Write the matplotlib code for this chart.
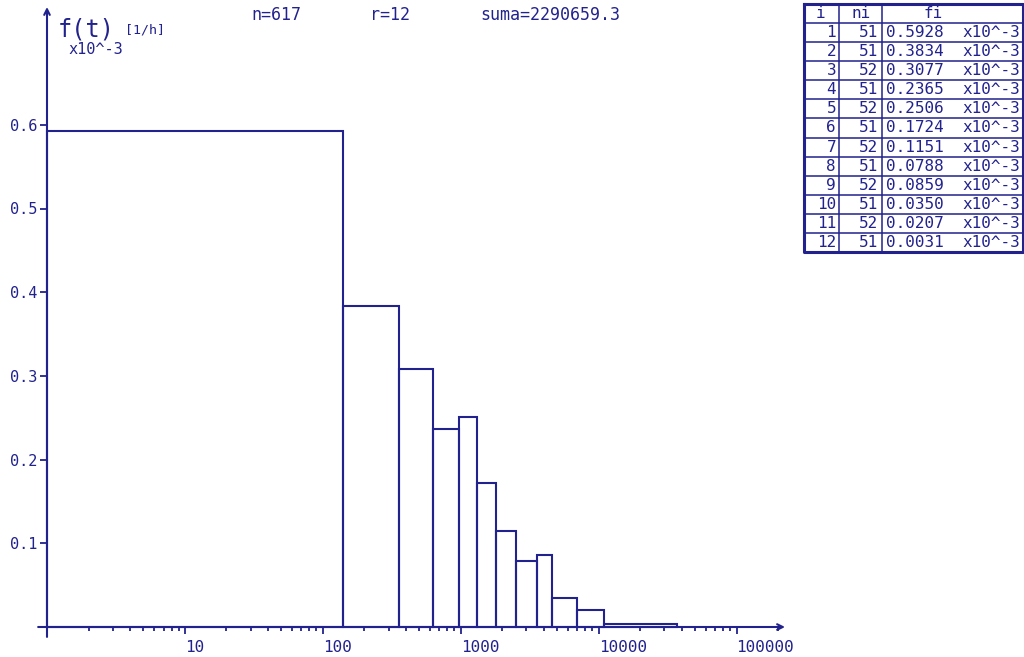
import numpy as np
import matplotlib
matplotlib.use("Agg")
import matplotlib.pyplot as plt
from matplotlib.ticker import FixedLocator, LogLocator, NullFormatter

bin_edges = [1, 139, 355, 629, 978, 1315, 1794, 2526, 3575, 4556, 6918, 10989, 37000]
idx = list(range(1, 13))
ni = [51, 51, 52, 51, 52, 51, 52, 51, 52, 51, 52, 51]
fi = [0.5928, 0.3834, 0.3077, 0.2365, 0.2506, 0.1724,
      0.1151, 0.0788, 0.0859, 0.0350, 0.0207, 0.0031]
x_ticks = [10, 100, 1000, 10000, 100000]
x_ticklabels = ["10", "100", "1000", "10000", "100000"]
y_ticks = [0.1, 0.2, 0.3, 0.4, 0.5, 0.6]
y_ticklabels = ["0.1", "0.2", "0.3", "0.4", "0.5", "0.6"]
n_total = 617
r_classes = 12
suma = "2290659.3"

navy = "#22228e"
mono = "DejaVu Sans Mono"
plt.rcParams["font.family"] = mono

W, H = 1024, 657
fig = plt.figure(figsize=(W / 100, H / 100), dpi=100)

# main axes (pixel box of plotting area)
x0, x1, y0, y1 = 47, 785, 627, 7
ax = fig.add_axes([x0 / W, 1 - y0 / H, (x1 - x0) / W, (y0 - y1) / H])
ax.set_xscale("log")
ax.set_xlim(1, 10 ** ((x1 - x0) / 137.9))
ax.set_ylim(0, (y0 - y1) / 837)
for s in ax.spines.values():
    s.set_visible(False)

edges = np.array(bin_edges, dtype=float)
ax.bar(edges[:-1], fi, width=np.diff(edges), align="edge",
       fill=False, edgecolor=navy, linewidth=1.5, clip_on=False)

# axes with arrows
ax.annotate("", xy=(1, 0), xytext=(-0.012, 0), xycoords="axes fraction",
            arrowprops=dict(arrowstyle="->", color=navy, lw=1.5,
                            shrinkA=0, shrinkB=0))
ax.annotate("", xy=(0, 1), xytext=(0, -0.016), xycoords="axes fraction",
            arrowprops=dict(arrowstyle="->", color=navy, lw=1.5,
                            shrinkA=0, shrinkB=0))

ax.xaxis.set_major_locator(FixedLocator(x_ticks))
ax.set_xticklabels(x_ticklabels, ha="left")
ax.xaxis.set_minor_locator(LogLocator(base=10, subs=np.arange(2, 10), numticks=20))
ax.xaxis.set_minor_formatter(NullFormatter())
ax.tick_params(axis="x", which="major", length=5, width=1.3, color=navy,
               labelcolor=navy, labelsize=11.5, pad=4, direction="out")
ax.tick_params(axis="x", which="minor", length=3, width=1.3, color=navy,
               direction="out")
for lbl in ax.get_xticklabels():
    lbl.set_horizontalalignment("left")

ax.set_yticks(y_ticks)
ax.set_yticklabels(y_ticklabels)
ax.tick_params(axis="y", which="major", length=5, width=1.3, color=navy,
               labelcolor=navy, labelsize=11, pad=2, direction="out")

# header texts
def ftext(x, y, s, **kw):
    fig.text(x / W, 1 - y / H, s, color=navy, va="center", **kw)

ftext(58, 30, "f(t)", fontsize=17)
ftext(125, 30, "[1/h]", fontsize=9.5)
ftext(68, 50, "x10^-3", fontsize=11)
ftext(251, 15, f"n={n_total}", fontsize=12)
ftext(370, 15, f"r={r_classes}", fontsize=12)
ftext(480, 15, f"suma={suma}", fontsize=12)

# table at the right
tx0, tx1, ty0, ty1 = 804, 1023, 4, 252
tax = fig.add_axes([tx0 / W, 1 - ty1 / H, (tx1 - tx0) / W, (ty1 - ty0) / H])
tax.set_xlim(tx0, tx1)
tax.set_ylim(ty1, ty0)
tax.axis("off")
nrow = len(idx) + 1
rh = (ty1 - ty0) / nrow
tax.plot([tx0, tx1, tx1, tx0, tx0], [ty0, ty0, ty1, ty1, ty0],
         color=navy, lw=2.2, clip_on=False)
for k in range(1, nrow):
    tax.axhline(ty0 + k * rh, color=navy, lw=1.1)
for cx in (839, 882):
    tax.axvline(cx, color=navy, lw=1.1)

def trow(k):
    return ty0 + (k + 0.5) * rh

fs = 11.5
tax.text(820, trow(0), "i", color=navy, ha="center", va="center", fontsize=fs)
tax.text(861, trow(0), "ni", color=navy, ha="center", va="center", fontsize=fs)
tax.text(933, trow(0), "fi", color=navy, ha="center", va="center", fontsize=fs)
for k, (i, n, f) in enumerate(zip(idx, ni, fi), start=1):
    tax.text(836, trow(k), str(i), color=navy, ha="right", va="center", fontsize=fs)
    tax.text(878, trow(k), str(n), color=navy, ha="right", va="center", fontsize=fs)
    tax.text(886, trow(k), f"{f:.4f}", color=navy, ha="left", va="center", fontsize=fs)
    tax.text(962, trow(k), "x10^-3", color=navy, ha="left", va="center", fontsize=fs)

fig.savefig("out.png", dpi=100)
